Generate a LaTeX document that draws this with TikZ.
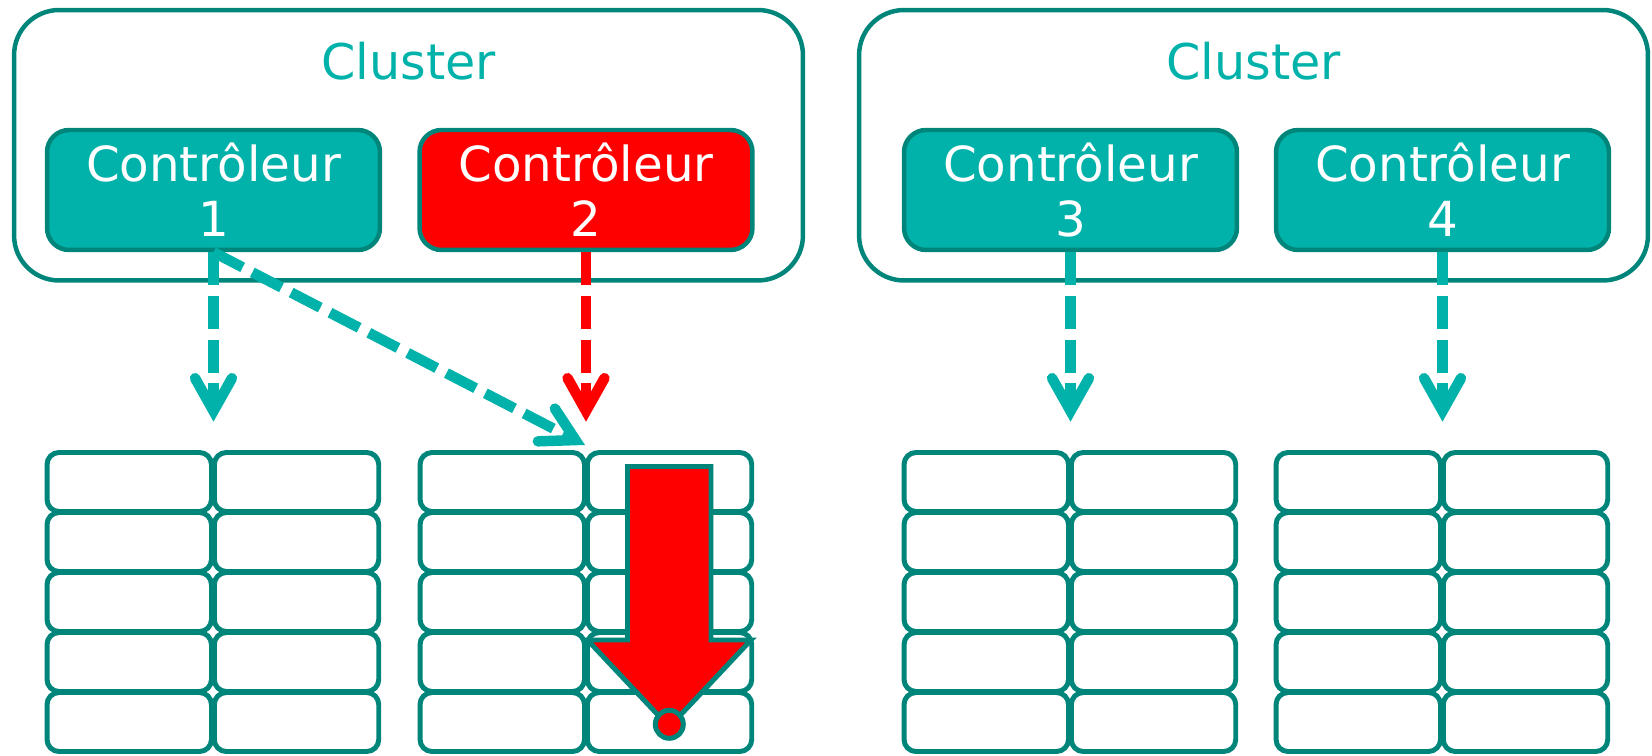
\documentclass[tikz,border=0pt]{standalone}
\usepackage{fontspec}
\setmainfont{DejaVu Sans}
\usetikzlibrary{arrows.meta}
\definecolor{ctrlfill}{RGB}{0,178,169}
\definecolor{ctrledge}{RGB}{0,133,122}
\definecolor{failred}{RGB}{255,0,0}

\begin{document}
\begin{tikzpicture}[x=0.02cm, y=0.02cm]
		\tikzstyle{every node}+=[inner sep=0pt]
		\tikzstyle{clusterbox}=[draw=ctrledge, line width=2.55pt, rounded corners=0.9cm, minimum width=15.78cm, minimum height=5.41cm]
		\tikzstyle{title}=[text=ctrlfill, font=\fontsize{28}{31}\selectfont, anchor=base]
		\tikzstyle{ctrl}=[draw=ctrledge, fill=ctrlfill, line width=2.55pt, rounded corners=0.44cm, minimum width=6.66cm, minimum height=2.4cm, text=white, align=center, font=\fontsize{27.5}{31.2}\selectfont]
		\tikzstyle{cell}=[draw=ctrledge, line width=2.83pt, rounded corners=0.24cm, minimum width=3.29cm, minimum height=1.18cm]
		\tikzstyle{link}=[line width=5.95pt, dash pattern=on 18.7pt off 6.2pt, -{Straight Barb[length=18.7pt, width=21pt, line cap=round, line join=miter]}]
		\useasboundingbox (0,0) rectangle (1652,-756);
		% clusters
		\node [clusterbox] (clusterA) at (408.5,-145.25) {};
		\node [clusterbox] (clusterB) at (1253.5,-145.25) {};
		\node [title] (titleA) at (408.5,-80) {Cluster};
		\node [title] (titleB) at (1253.5,-80) {Cluster};
		% controllers
		\node [ctrl] (ctrl1) at (213.5,-190) {Contrôleur\\1};
		\node [ctrl, fill=failred] (ctrl2) at (586,-190) {Contrôleur\\2};
		\node [ctrl] (ctrl3) at (1070.5,-190) {Contrôleur\\3};
		\node [ctrl] (ctrl4) at (1442.5,-190) {Contrôleur\\4};
		% disks
		\foreach \g/\gx in {1/47, 2/420, 3/904, 4/1276} {
			\foreach \r in {1,...,5} {
				\node [cell] (cell\g-\r-1) at ({\gx+82.25},{-482-60*(\r-1)}) {};
				\node [cell] (cell\g-\r-2) at ({\gx+249.5},{-482-60*(\r-1)}) {};
			}
		}
		% failover arrow
		\draw [ctrledge, fill=failred, line width=2.83pt] (627.5,-466.5) -- (711,-466.5) -- (711,-640) -- (751,-640) -- (669.25,-727) -- (587.5,-640) -- (627.5,-640) -- cycle;
		\draw [ctrledge, fill=failred, line width=2.83pt] (669.3,-724.3) circle [radius=0.28cm];
		% links
		\coordinate (hit1) at (213.5,-421.7);
		\coordinate (hit2) at (586,-421.7);
		\coordinate (hit3) at (1070.5,-421.7);
		\coordinate (hit4) at (1442.5,-421.7);
		\coordinate (hitx) at (585,-445);
		\draw [link, ctrlfill] (ctrl1.south) -- (hit1);
		\draw [link, failred] (ctrl2.south) -- (hit2);
		\draw [link, ctrlfill] (ctrl3.south) -- (hit3);
		\draw [link, ctrlfill] (ctrl4.south) -- (hit4);
		\draw [link, ctrlfill] (ctrl1.south) -- (hitx);
	\end{tikzpicture}
\end{document}
